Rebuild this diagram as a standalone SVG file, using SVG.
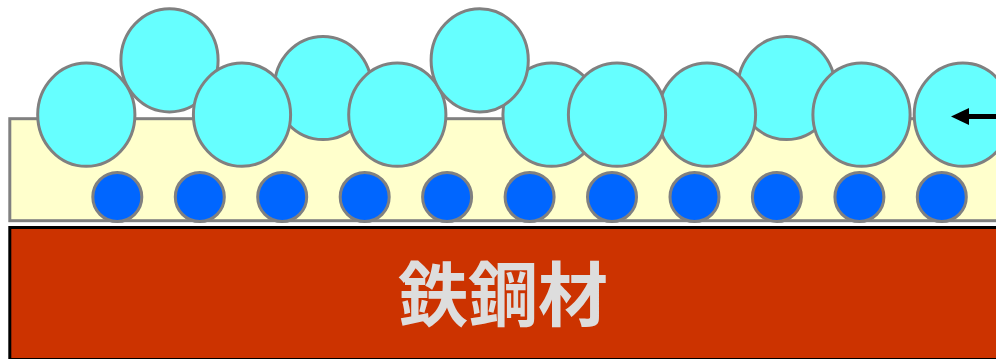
<svg xmlns="http://www.w3.org/2000/svg" width="996" height="359" viewBox="0 0 996 359">
  <style>
    .layer { fill: #FFFFCC; stroke: #808080; stroke-width: 3; }
    .steel { fill: #CC3300; stroke: #000000; stroke-width: 3; }
    .big { fill: #66FFFF; stroke: #808080; stroke-width: 3; }
    .small { fill: #0066FF; stroke: #808080; stroke-width: 3; }
    .label { font-family: "Noto Sans CJK JP", "Noto Sans CJK SC", sans-serif; font-weight: bold; font-size: 70px; fill: #DDDDDD; text-anchor: middle; }
    .arrow { stroke: #000000; stroke-width: 5; fill: none; }
  </style>
  <defs>
    <marker id="head" viewBox="0 0 18 17" refX="0" refY="8.5" markerWidth="18" markerHeight="17" markerUnits="userSpaceOnUse" orient="auto">
      <path d="M18,8.5 L0,0 L0,17 Z" fill="#000000"/>
    </marker>
  </defs>

  <g id="steel">
    <rect class="steel" x="9.8" y="227.5" width="1000" height="132"/>
    <text class="label" x="503" y="321">鉄鋼材</text>
  </g>

  <g id="coating-layer">
    <rect class="layer" x="9.8" y="118.7" width="1000" height="102"/>
  </g>

  <g id="small-particles">
    <circle class="small" cx="117.3" cy="197" r="24.5"/>
    <circle class="small" cx="199.8" cy="197" r="24.5"/>
    <circle class="small" cx="282.2" cy="197" r="24.5"/>
    <circle class="small" cx="364.7" cy="197" r="24.5"/>
    <circle class="small" cx="447.1" cy="197" r="24.5"/>
    <circle class="small" cx="529.6" cy="197" r="24.5"/>
    <circle class="small" cx="612" cy="197" r="24.5"/>
    <circle class="small" cx="694.5" cy="197" r="24.5"/>
    <circle class="small" cx="776.9" cy="197" r="24.5"/>
    <circle class="small" cx="859.4" cy="197" r="24.5"/>
    <circle class="small" cx="941.8" cy="197" r="24.5"/>
  </g>

  <g id="large-particles">
    <ellipse class="big" cx="169.5" cy="60.3" rx="48.6" ry="51.6"/>
    <ellipse class="big" cx="323" cy="88" rx="48.6" ry="51.6"/>
    <ellipse class="big" cx="86.3" cy="114.7" rx="48.6" ry="51.6"/>
    <ellipse class="big" cx="242" cy="114.7" rx="48.6" ry="51.6"/>
    <ellipse class="big" cx="397.3" cy="114.7" rx="48.6" ry="51.6"/>
    <ellipse class="big" cx="551.5" cy="114.7" rx="48.6" ry="51.6"/>
    <ellipse class="big" cx="479.7" cy="60.3" rx="48.6" ry="51.6"/>
    <ellipse class="big" cx="786.5" cy="88" rx="48.6" ry="51.6"/>
    <ellipse class="big" cx="707" cy="114.7" rx="48.6" ry="51.6"/>
    <ellipse class="big" cx="617" cy="114.7" rx="48.6" ry="51.6"/>
    <ellipse class="big" cx="861.5" cy="114.7" rx="48.6" ry="51.6"/>
    <ellipse class="big" cx="962.8" cy="114.7" rx="48.6" ry="51.6"/>
  </g>

  <g id="connectors">
    <line class="arrow" x1="1000" y1="116.5" x2="969" y2="116.5" marker-end="url(#head)"/>
  </g>
</svg>
